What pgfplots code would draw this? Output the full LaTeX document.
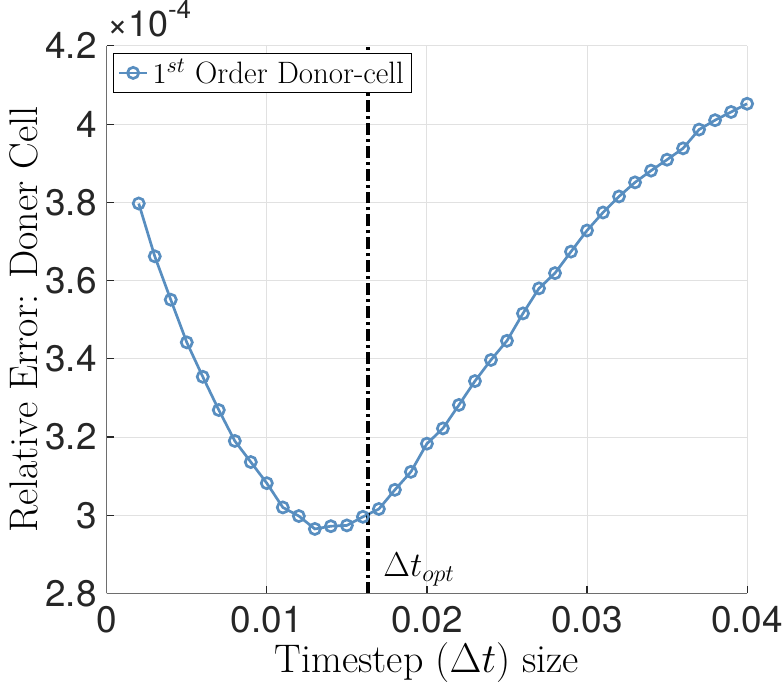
\documentclass[border=0pt]{standalone}
\usepackage{fontspec}
\usepackage{pgfplots}
\pgfplotsset{compat=1.18}
\newfontfamily\helv{TeX Gyre Heros}
\definecolor{lineblue}{RGB}{88,142,192}
\definecolor{gridgray}{RGB}{225,225,225}
\definecolor{axgray}{RGB}{38,38,38}
\definecolor{axline}{RGB}{110,110,110}

\begin{document}
\begin{tikzpicture}
\begin{axis}[
  name=main,
  scale only axis,
  width=321pt, height=274.5pt,
  xmin=0, xmax=0.04, ymin=2.8, ymax=4.2,
  axis x line=bottom, axis y line=left,
  axis line style={-, axline, line width=0.6pt},
  xtick={0,0.01,0.02,0.03,0.04},
  xticklabels={0,0.01,0.02,0.03,0.04},
  ytick={2.8,3,3.2,3.4,3.6,3.8,4,4.2},
  yticklabels={2.8,3,3.2,3.4,3.6,3.8,4,4.2},
  scaled ticks=false,
  tick align=inside,
  major tick length=3.5pt,
  tick style={axgray, line width=0.6pt},
  tick label style={font=\helv\fontsize{18.5}{20}\selectfont, text=axgray},
  xticklabel style={yshift=-3pt, inner xsep=0pt},
  yticklabel style={xshift=-1.5pt},
  /pgf/number format/assume math mode=true,
  grid=major,
  major grid style={gridgray, line width=0.5pt},
  xlabel={Timestep ($\Delta t$) size},
  ylabel={Relative Error: Doner Cell},
  label style={font=\fontsize{20}{22}\selectfont},
  xlabel style={yshift=2pt},
  ylabel style={yshift=-3pt},
  legend style={at={(0.01,0.987)}, anchor=north west, draw=black,
    line width=0.5pt, fill=white, font=\fontsize{15.5}{17}\selectfont,
    inner xsep=2pt, inner ysep=1pt},
  legend cell align=left,
  legend image code/.code={%
    \draw[mark repeat=2,mark phase=2] plot coordinates {(0cm,0cm) (0.25cm,0cm) (0.5cm,0cm)};},
  clip=false,
]
\addplot[color=lineblue, line width=1.35pt, mark=o,
  mark options={line width=1.35pt, scale=1.4}]
  coordinates {
  (0.002,3.797) (0.003,3.662) (0.004,3.551) (0.005,3.442) (0.006,3.354)
  (0.007,3.269) (0.008,3.190) (0.009,3.136) (0.010,3.082) (0.011,3.020)
  (0.012,2.998) (0.013,2.965) (0.014,2.972) (0.015,2.974) (0.016,2.996)
  (0.017,3.016) (0.018,3.065) (0.019,3.111) (0.020,3.183) (0.021,3.222)
  (0.022,3.282) (0.023,3.343) (0.024,3.397) (0.025,3.446) (0.026,3.516)
  (0.027,3.580) (0.028,3.619) (0.029,3.674) (0.030,3.728) (0.031,3.774)
  (0.032,3.815) (0.033,3.851) (0.034,3.881) (0.035,3.909) (0.036,3.938)
  (0.037,3.986) (0.038,4.010) (0.039,4.031) (0.040,4.052)
  };
\addlegendentry{$1^{st}$ Order Donor-cell}
% optimal timestep marker
\addplot[black, line width=2pt, dash pattern=on 6pt off 2pt on 1.5pt off 2pt, forget plot]
  coordinates {(0.0163,2.8) (0.0163,4.2)};
\node[anchor=base west, inner sep=0, font=\fontsize{18}{20}\selectfont]
  at (axis cs:0.01726,2.843) {$\Delta t_{opt}$};
% common exponent of the y axis
\node[anchor=base west, inner sep=0, text=axgray] at (rel axis cs:0,1) [yshift=4.5pt]
  {\helv\fontsize{18}{20}\selectfont ×10\raisebox{0.5em}{\fontsize{13}{13}\selectfont -4}};
\end{axis}
% page margins around the axis box
\path ([xshift=-53.5pt,yshift=-44.5pt]main.south west)
  rectangle ([xshift=17pt,yshift=23pt]main.north east);
\end{tikzpicture}
\end{document}
